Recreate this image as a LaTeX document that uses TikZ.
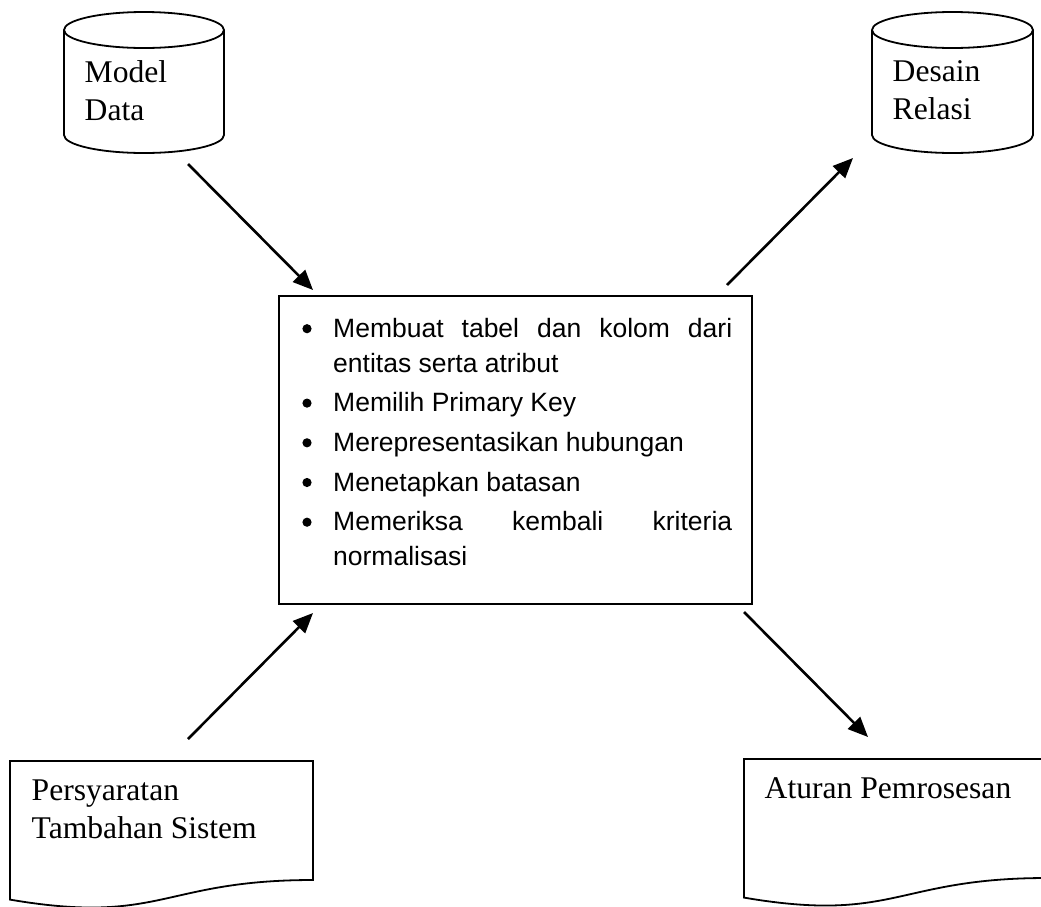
\documentclass[tikz,border=0pt]{standalone}
\usepackage{fontspec}
\setmainfont{Liberation Serif}
\newfontfamily\listfont{Liberation Sans}
\usetikzlibrary{arrows.meta}
\begin{document}
\begin{tikzpicture}[x=1pt,y=1pt,
  shapeline/.style={line width=1.8pt, line join=miter},
  arrowline/.style={line width=2.6pt, -{Triangle[length=20pt,width=17pt]}},
  txt/.style={anchor=base west, inner sep=0pt, font=\fontsize{31.6}{38}\selectfont},
  ]
\useasboundingbox (0,0) rectangle (1041,-906);

% data stores (cylinders)
\draw[shapeline] (144,-30) ellipse [x radius=80, y radius=18];
\draw[shapeline] (64,-30) -- (64,-135) arc[start angle=180, end angle=360, x radius=80, y radius=18] -- (224,-30);
\draw[shapeline] (952.5,-30) ellipse [x radius=80.5, y radius=18];
\draw[shapeline] (872,-30) -- (872,-135) arc[start angle=180, end angle=360, x radius=80.5, y radius=18] -- (1033,-30);
\node[txt] (model) at (84.5,-82.3) {\parbox[t]{150pt}{Model\\Data}};
\node[txt] (desain) at (892.5,-81.7) {\parbox[t]{150pt}{Desain\\Relasi}};

% documents
\draw[shapeline] (10,-761) -- (313,-761) -- (313,-880)
  .. controls (161.5,-880) and (161.5,-925.4) .. (10,-899.6) -- cycle;
\draw[shapeline] (744,-759) -- (1047,-759) -- (1047,-878)
  .. controls (895.5,-878) and (895.5,-923.4) .. (744,-897.6) -- cycle;
\node[txt] (syarat) at (31.5,-800.7) {\parbox[t]{280pt}{Persyaratan\\Tambahan Sistem}};
\node[txt] (aturan) at (764.5,-798.3) {Aturan Pemrosesan};

% process box
\node[draw, line width=1.8pt, minimum width=473pt, minimum height=308pt, inner sep=0pt] (proc) at (515.5,-450) {};
\node[anchor=base west, inner sep=0pt] (steps) at (333,-337.3) {\parbox[t]{399pt}{\listfont\fontsize{26.5}{34.7}\selectfont
\makebox[399pt][s]{Membuat tabel dan kolom dari}\\
entitas serta atribut\\[5pt]
Memilih Primary Key\\[5pt]
Merepresentasikan hubungan\\[5pt]
Menetapkan batasan\\[5pt]
\makebox[399pt][s]{Memeriksa kembali kriteria}\\
normalisasi}};
\foreach \by in {328.7,403.1,442.8,482.5,522.2}
  \fill (307,-\by) circle (4.6pt);

% flows
\coordinate (in1) at (188,-164);
\coordinate (in1e) at (313,-290);
\coordinate (out1) at (727,-285);
\coordinate (out1e) at (853,-158);
\coordinate (in2) at (188,-739);
\coordinate (in2e) at (313,-613);
\coordinate (out2) at (744,-612);
\coordinate (out2e) at (868,-737);
\draw[arrowline] (in1) -- (in1e);
\draw[arrowline] (out1) -- (out1e);
\draw[arrowline] (in2) -- (in2e);
\draw[arrowline] (out2) -- (out2e);
\end{tikzpicture}
\end{document}
